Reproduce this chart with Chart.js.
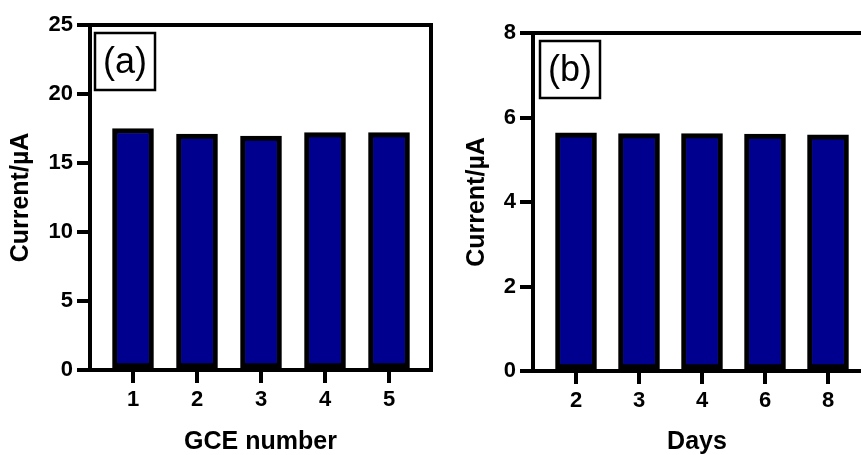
<!DOCTYPE html>
<html>
<head>
<meta charset="utf-8">
<script src="https://cdn.jsdelivr.net/npm/chart.js@4.4.0/dist/chart.umd.min.js"></script>
<style>
  body { margin: 0; background: #fff; }
  #wrap { position: relative; width: 861px; height: 455px; overflow: hidden; background: #fff; }
  canvas { position: absolute; top: 0; }
</style>
</head>
<body>
<div id="wrap">
  <canvas id="chartA" width="440" height="455" style="left:0"></canvas>
  <canvas id="chartB" width="421" height="455" style="left:440px"></canvas>
</div>
<script>
// panel (a) - current for each electrode
const gceLabels = ['1', '2', '3', '4', '5'];
const gceCurrent = [17.5, 17.1, 16.95, 17.2, 17.2];
const gceYTicks = [0, 5, 10, 15, 20, 25];

// panel (b) - current over storage days
const dayLabels = ['2', '3', '4', '6', '8'];
const dayCurrent = [5.64, 5.62, 5.62, 5.61, 5.59];
const dayYTicks = [0, 2, 4, 6, 8];

const FONT = '"Liberation Sans", Arial, Helvetica, sans-serif';
const BAR_FILL = '#00008f';

// top line, optional right line and the (a)/(b) tag box
const framePlugin = {
  id: 'frame',
  afterDraw(chart, args, opts) {
    const { ctx, chartArea: a } = chart;
    ctx.save();
    ctx.strokeStyle = '#000';
    ctx.lineWidth = 4;
    ctx.lineCap = 'square';
    ctx.beginPath();
    ctx.moveTo(a.left, a.top);
    ctx.lineTo(a.right, a.top);
    if (opts.right) ctx.lineTo(a.right, a.bottom);
    ctx.stroke();

    const bx = a.left + opts.tagX, by = a.top + 8, bw = 60, bh = 57;
    ctx.lineWidth = 2.5;
    ctx.lineCap = 'butt';
    ctx.strokeRect(bx, by, bw, bh);
    ctx.fillStyle = '#000';
    ctx.font = '36px ' + FONT;
    ctx.textAlign = 'center';
    ctx.textBaseline = 'middle';
    ctx.fillText(opts.tag, bx + bw / 2, by + bh / 2 + 2);
    ctx.restore();
  }
};

function makePanel(id, labels, values, yTicks, xTitle, p) {
  const H = 455;
  new Chart(document.getElementById(id), {
    type: 'bar',
    data: {
      datasets: [{
        data: values.map((v, i) => ({ x: i + 1, y: v })),
        backgroundColor: BAR_FILL,
        borderColor: '#000',
        borderWidth: 5,
        borderSkipped: false,
        barThickness: 41
      }]
    },
    options: {
      responsive: false,
      animation: false,
      layout: { padding: { left: 0, top: p.top, right: p.right, bottom: 0 } },
      plugins: {
        legend: { display: false },
        tooltip: { enabled: false },
        frame: { right: p.rightLine, tag: p.tag, tagX: p.tagX }
      },
      scales: {
        x: {
          type: 'linear',
          min: p.xMin,
          max: p.xMax,
          offset: false,
          afterBuildTicks: axis => { axis.ticks = labels.map((_, i) => ({ value: i + 1 })); },
          afterFit: s => { s.height = H - p.bottom; },
          grid: { display: true, offset: false, drawOnChartArea: false, drawTicks: true, tickLength: 13, lineWidth: 4, color: '#000' },
          border: { display: true, width: 4, color: '#000' },
          ticks: {
            autoSkip: false,
            maxRotation: 0,
            padding: 4,
            color: '#000',
            font: { family: FONT, size: 22, weight: 'bold' },
            callback: v => labels[v - 1]
          },
          title: {
            display: true,
            text: xTitle,
            color: '#000',
            font: { family: FONT, size: 25, weight: 'bold', lineHeight: 1 },
            padding: 0
          }
        },
        y: {
          min: yTicks[0],
          max: yTicks[yTicks.length - 1],
          afterBuildTicks: axis => { axis.ticks = yTicks.map(v => ({ value: v })); },
          afterFit: s => { s.width = p.left; },
          grid: { display: true, drawOnChartArea: false, drawTicks: true, tickLength: 13, lineWidth: 4, color: '#000' },
          border: { display: true, width: 4, color: '#000' },
          ticks: {
            padding: 4,
            color: '#000',
            font: { family: FONT, size: 22, weight: 'bold' }
          },
          title: {
            display: true,
            text: 'Current/µA',
            color: '#000',
            font: { family: FONT, size: 25, weight: 'bold', lineHeight: 1 },
            padding: { top: p.yTitlePad, bottom: 0 }
          }
        }
      }
    },
    plugins: [framePlugin]
  });
}

makePanel('chartA', gceLabels, gceCurrent, gceYTicks, 'GCE number', {
  left: 90, top: 25, bottom: 370, right: 9,
  xMin: 1 - 43 / 64, xMax: 1 - 43 / 64 + 341 / 64,
  rightLine: true, tag: '(a)', tagX: 5, yTitlePad: 9
});

makePanel('chartB', dayLabels, dayCurrent, dayYTicks, 'Days', {
  left: 93, top: 33, bottom: 371, right: 0,
  xMin: 1 - 43 / 63, xMax: 1 - 43 / 63 + 328 / 63,
  rightLine: false, tag: '(b)', tagX: 7, yTitlePad: 25
});
</script>
</body>
</html>
